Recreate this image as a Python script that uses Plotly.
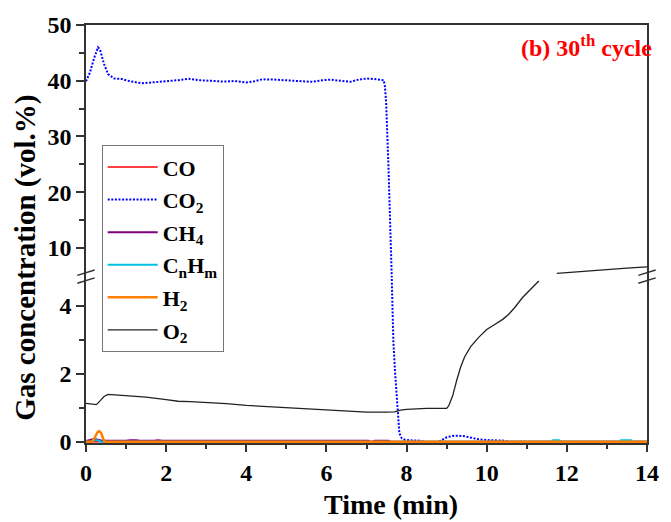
import numpy as np
import plotly.graph_objects as go

# ---------------- data ----------------
time_co = [0.0, 7.0, 14.0]
co = [0.0, 0.0, 0.0]

time_co2 = [0.0, 0.1, 0.2, 0.3, 0.35, 0.45, 0.55, 0.7, 0.9, 1.1, 1.4, 1.7, 2.0, 2.3,
            2.55, 2.8, 3.1, 3.4, 3.7, 4.0, 4.2, 4.4, 4.7, 5.0, 5.3, 5.65, 5.9, 6.1,
            6.35, 6.6, 6.8, 7.0, 7.2, 7.43, 7.46, 7.49, 7.55, 7.59, 7.63, 7.67, 7.71,
            7.74, 7.78, 7.82, 7.88, 7.95, 8.1, 8.35, 8.45, 8.8, 8.88, 9.0, 9.15, 9.3,
            9.45, 9.6, 9.8, 10.0, 10.2, 10.45, 10.55, 11.0, 12.0, 13.0, 14.0]
co2 = [39.9, 41.5, 44.0, 46.0, 45.6, 43.0, 41.2, 40.4, 40.3, 39.9, 39.55, 39.7, 39.9, 40.1,
       40.35, 40.1, 40.0, 39.85, 39.95, 39.7, 39.9, 40.26, 40.2, 40.1, 40.0, 39.8, 40.1, 40.2,
       40.0, 39.8, 40.2, 40.4, 40.3, 40.1, 39.0, 36.1, 24.2, 12.4, 4.8, 2.97, 2.1,
       1.51, 0.8, 0.25, 0.1, 0.06, 0.04, 0.03, -0.01, -0.01, 0.05, 0.13, 0.17, 0.18,
       0.16, 0.12, 0.07, 0.05, 0.04, 0.03, 0.0, 0.0, 0.0, 0.0, 0.0]

time_ch4 = [0.0, 0.1, 0.2, 0.3, 0.4, 1.0, 1.1, 1.25, 1.35, 1.7, 1.8, 1.9, 3.0, 5.0,
            7.05, 7.1, 7.15, 7.2, 7.55, 7.6, 10.0, 14.0]
ch4 = [0.02, 0.05, 0.08, 0.06, 0.03, 0.03, 0.045, 0.045, 0.03, 0.03, 0.045, 0.03, 0.03, 0.03,
       0.03, 0.0, 0.0, 0.03, 0.03, 0.0, 0.0, 0.0]

time_cnhm = [0.0, 0.12, 0.2, 0.3, 0.38, 5.0, 11.6, 11.65, 11.8, 11.85, 13.3, 13.35, 13.6, 13.65, 14.0]
cnhm = [0.0, 0.0, 0.04, 0.04, 0.0, 0.0, 0.0, 0.04, 0.04, 0.0, 0.0, 0.04, 0.04, 0.0, 0.0]

time_h2 = [0.0, 0.15, 0.22, 0.28, 0.33, 0.38, 0.43, 0.47, 3.0, 7.0, 10.0, 14.0]
h2 = [0.0, 0.0, 0.12, 0.27, 0.31, 0.25, 0.08, 0.0, 0.0, 0.0, 0.0, 0.0]

time_o2 = [0.0, 0.1, 0.2, 0.26, 0.35, 0.45, 0.55, 0.7, 1.0, 1.5, 2.0, 2.3, 2.6, 3.0, 3.5,
           4.0, 4.5, 5.0, 5.5, 6.0, 6.5, 7.0, 7.5, 7.7, 7.85, 8.0, 8.5, 9.0, 9.05, 9.15,
           9.25, 9.35, 9.45, 9.6, 9.8, 10.0, 10.2, 10.4, 10.55, 10.7, 10.9, 11.1, 11.3,
           11.75, 12.0, 12.5, 13.0, 13.5, 14.0]
o2 = [1.13, 1.12, 1.09, 1.09, 1.2, 1.33, 1.39, 1.38, 1.35, 1.31, 1.24, 1.19, 1.18, 1.16, 1.12,
      1.07, 1.04, 1.0, 0.97, 0.95, 0.91, 0.87, 0.87, 0.88, 0.93, 0.95, 0.98, 0.98, 1.05, 1.35,
      1.8, 2.2, 2.5, 2.8, 3.07, 3.3, 3.45, 3.6, 3.75, 3.95, 4.25, 4.5, 4.73,
      5.44, 5.55, 5.85, 6.1, 6.38, 6.62]

x_ticks = [0, 2, 4, 6, 8, 10, 12, 14]
y_low_ticks = [0, 2, 4]
y_high_ticks = [10, 20, 30, 40, 50]

LOW_RANGE = [-0.038, 4.845]
HIGH_RANGE = [4.78, 50]
BREAK = 0.397

# split O2 at the axis break
o2_arr = np.array(o2, dtype=float)
o2_low = [v if v <= LOW_RANGE[1] else None for v in o2_arr]
o2_high = [v if v >= 5.0 else None for v in o2_arr]

FONT = "Liberation Serif"
AX = "#333333"

fig = go.Figure()

series = [
    ("CO", time_co, co, "#ff0000", "solid", 1.6),
    ("CO<sub>2</sub>", time_co2, co2, "#0000ff", "2px,1.6px", 2.0),
    ("CH<sub>4</sub>", time_ch4, ch4, "#800080", "solid", 2.0),
    ("C<sub>n</sub>H<sub>m</sub>", time_cnhm, cnhm, "#00bfe6", "solid", 2.0),
    ("H<sub>2</sub>", time_h2, h2, "#ff7f00", "solid", 2.5),
]
for i, (name, t, v, col, dash, w) in enumerate(series):
    fig.add_trace(go.Scatter(x=t, y=v, mode="lines", name=name, legendgroup=str(i),
                             line=dict(color=col, dash=dash, width=w), xaxis="x", yaxis="y"))

fig.add_trace(go.Scatter(x=time_o2, y=o2_low, mode="lines", name="O<sub>2</sub>", legendgroup="5",
                         line=dict(color="#222222", width=1.3), xaxis="x", yaxis="y",
                         connectgaps=False))

# upper (broken) segment
fig.add_trace(go.Scatter(x=time_co2, y=co2, mode="lines", showlegend=False,
                         line=dict(color="#0000ff", dash="2px,1.6px", width=2.0),
                         xaxis="x2", yaxis="y2"))
fig.add_trace(go.Scatter(x=time_o2, y=o2_high, mode="lines", showlegend=False,
                         line=dict(color="#222222", width=1.3), xaxis="x2", yaxis="y2",
                         connectgaps=False))

tickfont = dict(family=FONT, size=24, color="black", weight="bold")

fig.update_layout(
    width=671, height=522,
    margin=dict(l=86, r=12, t=22, b=79),
    paper_bgcolor="white", plot_bgcolor="white",
    xaxis=dict(domain=[0, 1], range=[0, 14], anchor="y", tickvals=x_ticks,
               ticks="outside", ticklen=7, tickwidth=1.5, tickcolor=AX,
               showline=True, linecolor=AX, linewidth=1.5, showgrid=False, zeroline=False,
               minor=dict(dtick=1, ticks="outside", ticklen=4, tickwidth=1.5, tickcolor=AX),
               tickfont=tickfont),
    xaxis2=dict(domain=[0, 1], range=[0, 14], anchor="y2", matches="x", side="top",
                showticklabels=False, ticks="", showline=True, linecolor=AX, linewidth=1.5,
                showgrid=False, zeroline=False),
    yaxis=dict(domain=[0, BREAK], range=LOW_RANGE, anchor="x", tickvals=y_low_ticks,
               ticks="outside", ticklen=8, tickwidth=1.5, tickcolor=AX,
               showline=True, mirror=True, linecolor=AX, linewidth=1.5,
               showgrid=False, zeroline=False,
               minor=dict(tickvals=[1, 3], ticks="outside", ticklen=5, tickwidth=1.5, tickcolor=AX),
               tickfont=tickfont),
    yaxis2=dict(domain=[BREAK, 1], range=HIGH_RANGE, anchor="x2", tickvals=y_high_ticks,
                ticks="outside", ticklen=8, tickwidth=1.5, tickcolor=AX,
                showline=True, mirror=True, linecolor=AX, linewidth=1.5,
                showgrid=False, zeroline=False,
                minor=dict(tickvals=[15, 25, 35, 45], ticks="outside", ticklen=5, tickwidth=1.5,
                           tickcolor=AX),
                tickfont=tickfont),
    legend=dict(x=0.028, y=0.7126, xanchor="left", yanchor="top",
                bgcolor="white", bordercolor="#777777", borderwidth=1,
                font=dict(family=FONT, size=22, color="black", weight="bold"),
                tracegroupgap=1, itemwidth=50),
    annotations=[
        dict(text="Time (min)", x=0.543, y=-0.146, xref="paper", yref="paper",
             showarrow=False, xanchor="center", yanchor="middle",
             font=dict(family=FONT, size=28, color="black", weight="bold")),
        dict(text="Gas concentration (vol.%)", x=-0.108, y=0.444, xref="paper", yref="paper",
             showarrow=False, xanchor="center", yanchor="middle", textangle=-90,
             font=dict(family=FONT, size=29, color="black", weight="bold")),
        dict(text="(b) 30<sup>th</sup> cycle", x=1.012, y=0.95, xref="paper", yref="paper",
             showarrow=False, xanchor="right", yanchor="middle",
             font=dict(family=FONT, size=24, color="#ff0000", weight="bold")),
    ],
)

# axis-break markers (double slashes) on both vertical axes
for xc in (0.0, 1.0):
    for dy in (0.0, -0.019):
        fig.add_shape(type="line", xref="paper", yref="paper",
                      x0=xc - 0.0155, x1=xc + 0.0155,
                      y0=BREAK + 0.004 + dy, y1=BREAK + 0.017 + dy,
                      line=dict(color=AX, width=1.5))

fig.write_html("out.html")
